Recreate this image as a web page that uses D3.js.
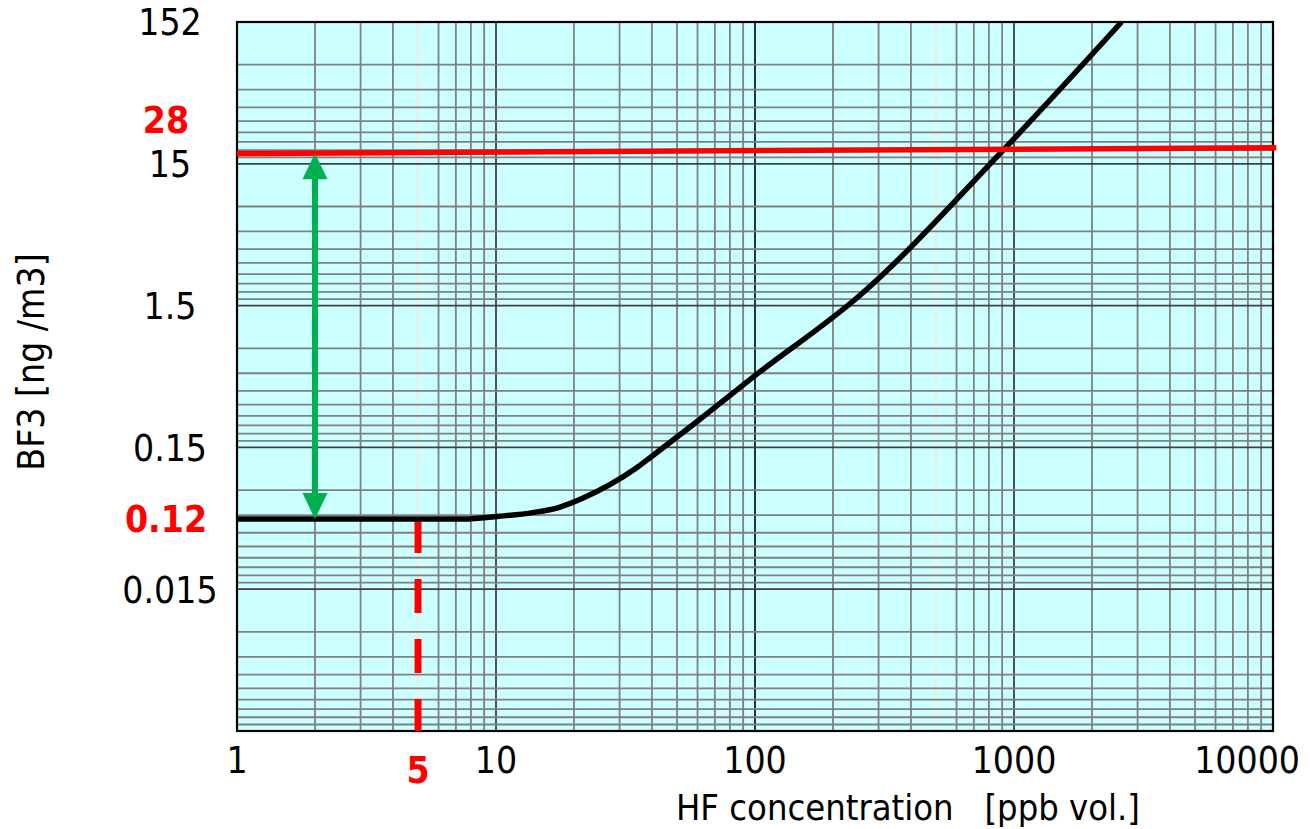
<!DOCTYPE html>
<html>
<head>
<meta charset="utf-8">
<script src="https://cdn.jsdelivr.net/npm/d3@7/dist/d3.min.js"></script>
<style>
  html, body { margin: 0; padding: 0; background: #ffffff; }
  svg { display: block; }
  text { font-family: "DejaVu Sans Condensed", "DejaVu Sans", sans-serif; font-stretch: condensed; }
</style>
</head>
<body>
<script>
// ---- data ----
const xDomain = [1, 10000];
const yDomain = [0.0015, 150];
const xTickValues = [1, 10, 100, 1000, 10000];
const xTickLabels = ["1", "10", "100", "1000", "10000"];
const yTickValues = [150, 15, 1.5, 0.15, 0.015];
const yTickLabels = ["152", "15", "1.5", "0.15", "0.015"];
const lightGridX = [5, 500];

// BF3 curve (HF ppb, BF3 in axis units)
const curveX = [1, 7.5, 10.16, 13.86, 17.57, 21.6, 27.4, 34.7, 40.1, 60.8, 98.3, 255, 897, 2603];
const curveY = [0.0469, 0.0469, 0.0489, 0.0520, 0.0567, 0.0656, 0.0815, 0.1068, 0.1305, 0.234, 0.470, 1.782, 18.26, 150];

// red limit line
const limitX = [1, 10300];
const limitY = [17.7, 19.5];

// green double arrow
const arrowX = 2;
const arrowY = [17.8, 0.0469];

// red dashed marker at 5 ppb
const markX = 5;
const markY = [0.0469, 0.0015];

// annotations
const redLabelTexts = ["28", "0.12"];
const redLabelValues = [30.6, 0.0469];
const redXLabel = "5";

const xTitle = "HF concentration   [ppb vol.]";
const yTitle = "BF3 [ng /m3]";

// ---- layout ----
const W = 1310, H = 829;
const L = 237, R = 1273, T = 22, B = 731;
const FS = 37;

const svg = d3.select("body").append("svg").attr("width", W).attr("height", H);

const x = d3.scaleLog().domain(xDomain).range([L, R]);
const y = d3.scaleLog().domain(yDomain).range([B, T]);

// background
svg.append("rect").attr("x", L).attr("y", T).attr("width", R - L).attr("height", B - T)
  .attr("fill", "#ccffff");

svg.append("clipPath").attr("id", "plotclip")
  .append("rect").attr("x", L).attr("y", T).attr("width", R - L).attr("height", B - T);

const grid = svg.append("g");

// vertical grid (standard log minor lines)
const xGridVals = x.ticks(40).filter(v => v > xDomain[0] && v < xDomain[1]);
grid.selectAll("line.vx").data(xGridVals).join("line")
  .attr("x1", d => x(d)).attr("x2", d => x(d)).attr("y1", T).attr("y2", B)
  .attr("stroke", d => {
    if (lightGridX.includes(d)) return "#ecece4";
    const lg = Math.log10(d);
    if (Math.abs(lg - Math.round(lg)) < 1e-9) return d === 100 ? "#1a1a1a" : "#404040";
    return "#808080";
  })
  .attr("stroke-width", d => (lightGridX.includes(d) ? 2 : 1.8));

// horizontal grid: lines at decadeTop / k (as drawn in the original)
const yGridVals = [];
yTickValues.forEach(top => { for (let k = 1; k <= 9; k++) yGridVals.push({ v: top / k, major: k === 1 }); });
grid.selectAll("line.hy").data(yGridVals.filter(d => d.v < yDomain[1] * 0.999)).join("line")
  .attr("x1", L).attr("x2", R).attr("y1", d => y(d.v)).attr("y2", d => y(d.v))
  .attr("stroke", d => d.major ? "#404040" : "#808080")
  .attr("stroke-width", 1.8);

// border
svg.append("rect").attr("x", L).attr("y", T).attr("width", R - L).attr("height", B - T)
  .attr("fill", "none").attr("stroke", "#000").attr("stroke-width", 2.2);

// red dashed vertical at 5
svg.append("line")
  .attr("x1", x(markX)).attr("x2", x(markX))
  .attr("y1", y(markY[0])).attr("y2", y(markY[1]))
  .attr("stroke", "#ff0000").attr("stroke-width", 7).attr("stroke-dasharray", "34,26");

// curve
const curveData = curveX.map((v, i) => [v, curveY[i]]);
svg.append("path").datum(curveData)
  .attr("clip-path", "url(#plotclip)")
  .attr("d", d3.line().x(d => x(d[0])).y(d => y(d[1])).curve(d3.curveMonotoneX))
  .attr("fill", "none").attr("stroke", "#000").attr("stroke-width", 5.5)
  .attr("stroke-linejoin", "round");

// red limit line
svg.append("line")
  .attr("x1", x(limitX[0])).attr("x2", x(limitX[1]))
  .attr("y1", y(limitY[0])).attr("y2", y(limitY[1]))
  .attr("stroke", "#ff0000").attr("stroke-width", 5.5);

// green double arrow
const ax = x(arrowX), ay1 = y(arrowY[0]), ay2 = y(arrowY[1]);
const headH = 26, headW = 12.5;
const green = "#00b050";
svg.append("line").attr("x1", ax).attr("x2", ax).attr("y1", ay1 + headH - 2).attr("y2", ay2 - headH + 2)
  .attr("stroke", green).attr("stroke-width", 6);
svg.append("path")
  .attr("d", `M${ax},${ay1} L${ax + headW},${ay1 + headH} L${ax - headW},${ay1 + headH} Z`)
  .attr("fill", green);
svg.append("path")
  .attr("d", `M${ax},${ay2} L${ax + headW},${ay2 - headH} L${ax - headW},${ay2 - headH} Z`)
  .attr("fill", green);

// y tick labels
svg.append("g").selectAll("text").data(yTickValues).join("text")
  .attr("x", 170).attr("y", d => y(d)).attr("dy", "0.36em")
  .attr("text-anchor", "middle").attr("font-size", FS).attr("fill", "#000")
  .text((d, i) => yTickLabels[i]);

// red y labels
svg.append("g").selectAll("text").data(redLabelValues).join("text")
  .attr("x", 166).attr("y", d => y(d)).attr("dy", "0.36em")
  .attr("text-anchor", "middle").attr("font-size", FS).attr("font-weight", "bold").attr("fill", "#ff0000")
  .text((d, i) => redLabelTexts[i]);

// x tick labels
svg.append("g").selectAll("text").data(xTickValues).join("text")
  .attr("x", (d, i) => i === xTickValues.length - 1 ? x(d) + 27 : x(d))
  .attr("y", 773)
  .attr("text-anchor", (d, i) => i === xTickValues.length - 1 ? "end" : "middle")
  .attr("font-size", FS).attr("fill", "#000")
  .text((d, i) => xTickLabels[i]);

// red x label
svg.append("text").attr("x", x(markX)).attr("y", 783)
  .attr("text-anchor", "middle").attr("font-size", FS).attr("font-weight", "bold").attr("fill", "#ff0000")
  .text(redXLabel);

// axis titles
svg.append("text").attr("x", 676).attr("y", 820)
  .attr("font-size", 36).attr("fill", "#000")
  .style("white-space", "pre")
  .text(xTitle);

svg.append("text").attr("transform", "translate(44,362) rotate(-90)")
  .attr("text-anchor", "middle").attr("font-size", FS).attr("fill", "#000")
  .text(yTitle);
</script>
</body>
</html>
